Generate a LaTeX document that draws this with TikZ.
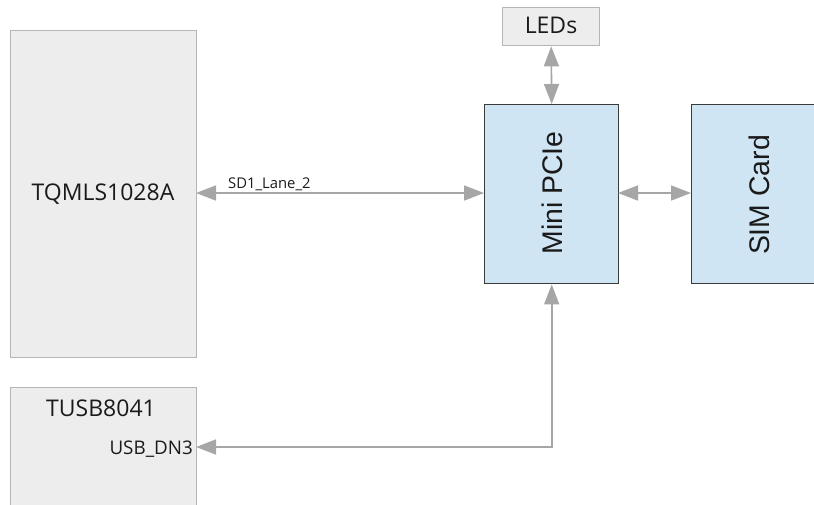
\documentclass[tikz,border=0pt]{standalone}
\usepackage{fontspec}
\usetikzlibrary{arrows.meta}
\newfontfamily\labfont{Open Sans}
\newfontfamily\boxfont{Liberation Sans}
\definecolor{grayfill}{HTML}{EDEDED}
\definecolor{grayline}{HTML}{B5B5B5}
\definecolor{bluefill}{HTML}{CFE5F3}
\definecolor{blueline}{HTML}{3A3A3A}
\definecolor{wire}{HTML}{A6A6A6}
\definecolor{ink}{HTML}{1A1A1A}
\tikzset{
  graybox/.style={draw=grayline, fill=grayfill, line width=1.4pt, inner sep=0pt, anchor=north west},
  bluebox/.style={draw=blueline, fill=bluefill, line width=1.4pt, inner sep=0pt, anchor=north west},
  bigtxt/.style={font=\labfont\fontsize{23}{27}\selectfont, text=ink, inner sep=0pt},
  pintxt/.style={font=\labfont\fontsize{18.8}{22}\selectfont, text=ink, inner sep=0pt},
  sigtxt/.style={font=\labfont\fontsize{14.8}{18}\selectfont, text=ink, inner sep=0pt},
  vtxt/.style={font=\boxfont\fontsize{28.4}{32}\selectfont, text=ink, inner sep=0pt, rotate=90, anchor=base},
  link/.style={draw=wire, line width=1.6pt, {Triangle[length=20pt,width=15pt]}-{Triangle[length=20pt,width=15pt]}}
}
\begin{document}
\begin{tikzpicture}[x=1pt,y=-1pt]
\useasboundingbox (0,0) rectangle (814,504);
% boxes
\node[graybox, minimum width=186pt, minimum height=327pt] (tq) at (10,30) {};
\node[graybox, minimum width=186pt, minimum height=160pt] (tusb) at (10,387) {};
\node[graybox, minimum width=97pt, minimum height=38pt] (leds) at (502,7) {};
\node[bluebox, minimum width=134pt, minimum height=179pt] (mini) at (484,104) {};
\node[bluebox, minimum width=134pt, minimum height=179pt] (sim) at (691,104) {};
% texts
\node[bigtxt, anchor=base] (tqtxt) at (103,200) {TQMLS1028A};
\node[bigtxt, anchor=base] (tusbtxt) at (101,416) {TUSB8041};
\node[pintxt, anchor=base east] (usbdn) at (193,454) {USB\_DN3};
\node[bigtxt, anchor=base] (ledtxt) at (551,33) {LEDs};
\node[vtxt] (minitxt) at (562,193) {Mini PCIe};
\node[vtxt] (simtxt) at (769,195) {SIM Card};
\node[sigtxt, anchor=base west] (sd1) at (228,188) {SD1\_Lane\_2};
% anchor coordinates
\coordinate (tqport) at (196,193);
\coordinate (miniwest) at (484,193);
\coordinate (minieast) at (618,193);
\coordinate (simwest) at (691,193);
\coordinate (usbport) at (196,447);
% connectors
\draw[link] (tqport) -- (miniwest);
\draw[link] (minieast) -- (simwest);
\draw[link] (leds.south) -- (mini.north);
\draw[link] (mini.south) |- (usbport);
\end{tikzpicture}
\end{document}
